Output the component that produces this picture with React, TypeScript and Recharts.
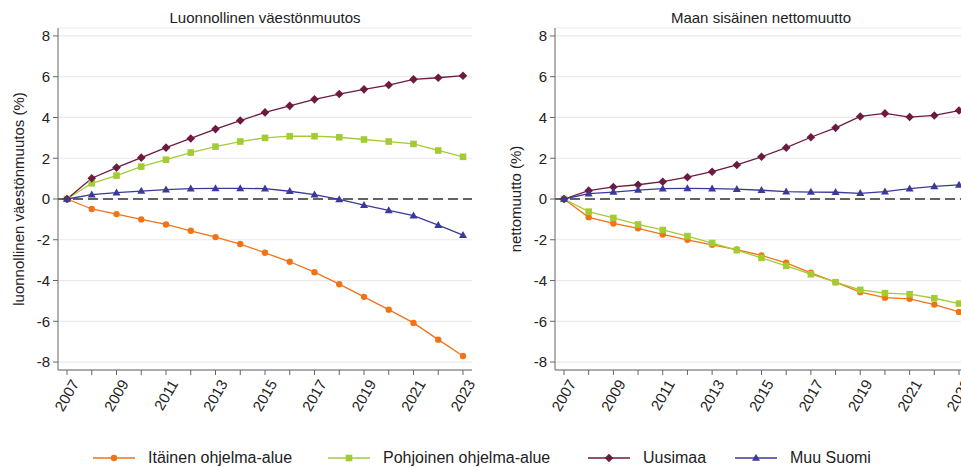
import React from 'react';
import { LineChart, Line, XAxis, YAxis, CartesianGrid, ReferenceLine } from 'recharts';

const years = [2007, 2008, 2009, 2010, 2011, 2012, 2013, 2014, 2015, 2016, 2017, 2018, 2019, 2020, 2021, 2022, 2023];
const yTicks = [-8, -6, -4, -2, 0, 2, 4, 6, 8];

// Luonnollinen väestönmuutos (%)
const natItainen = [0, -0.49, -0.74, -1.0, -1.25, -1.56, -1.87, -2.21, -2.64, -3.08, -3.59, -4.18, -4.8, -5.43, -6.08, -6.9, -7.7];
const natPohjoinen = [0, 0.77, 1.15, 1.59, 1.93, 2.28, 2.57, 2.82, 3.0, 3.08, 3.08, 3.03, 2.92, 2.82, 2.7, 2.38, 2.07];
const natUusimaa = [0, 1.02, 1.54, 2.03, 2.52, 2.97, 3.43, 3.85, 4.25, 4.57, 4.89, 5.15, 5.38, 5.59, 5.87, 5.95, 6.05];
const natMuu = [0, 0.21, 0.31, 0.39, 0.46, 0.51, 0.52, 0.52, 0.51, 0.38, 0.21, -0.02, -0.3, -0.56, -0.82, -1.28, -1.77];

// Maan sisäinen nettomuutto (%)
const netItainen = [0, -0.9, -1.2, -1.44, -1.74, -2.0, -2.25, -2.48, -2.77, -3.13, -3.62, -4.08, -4.57, -4.84, -4.9, -5.18, -5.54];
const netPohjoinen = [0, -0.62, -0.93, -1.25, -1.52, -1.82, -2.16, -2.51, -2.89, -3.28, -3.69, -4.08, -4.46, -4.62, -4.67, -4.87, -5.13];
const netUusimaa = [0, 0.41, 0.59, 0.7, 0.85, 1.07, 1.34, 1.67, 2.07, 2.52, 3.03, 3.49, 4.05, 4.2, 4.02, 4.1, 4.34];
const netMuu = [0, 0.26, 0.34, 0.44, 0.51, 0.52, 0.51, 0.48, 0.43, 0.36, 0.34, 0.33, 0.28, 0.36, 0.51, 0.62, 0.69];

const seriesNames = ['Itäinen ohjelma-alue', 'Pohjoinen ohjelma-alue', 'Uusimaa', 'Muu Suomi'];

const COLORS = ['#f47216', '#a3cc34', '#6d1a40', '#3b3a9a'];
const SHAPES = ['circle', 'square', 'diamond', 'triangle'];
const FONT = '"Liberation Sans", Arial, sans-serif';

const buildRows = (a: number[], b: number[], c: number[], d: number[]) =>
  years.map((year, i) => ({ year, s0: a[i], s1: b[i], s2: c[i], s3: d[i] }));

const natData = buildRows(natItainen, natPohjoinen, natUusimaa, natMuu);
const netData = buildRows(netItainen, netPohjoinen, netUusimaa, netMuu);

const Marker = ({ shape, cx, cy, color }: any) => {
  if (cx == null || cy == null) return null;
  if (shape === 'circle') return <circle cx={cx} cy={cy} r={3.2} fill={color} />;
  if (shape === 'square') return <rect x={cx - 3.3} y={cy - 3.3} width={6.6} height={6.6} fill={color} />;
  if (shape === 'diamond')
    return <polygon points={`${cx},${cy - 4.3} ${cx + 4.3},${cy} ${cx},${cy + 4.3} ${cx - 4.3},${cy}`} fill={color} />;
  return <polygon points={`${cx},${cy - 4.2} ${cx + 4},${cy + 2.8} ${cx - 4},${cy + 2.8}`} fill={color} />;
};

const XTick = ({ x, y, payload }: any) => {
  const v = payload.value;
  if (v % 2 === 0) return <g />;
  return (
    <text
      x={x + 3}
      y={y + 1}
      transform={`rotate(-60 ${x + 3} ${y + 1})`}
      textAnchor="end"
      dominantBaseline="hanging"
      fontSize={15}
      fill="#222"
      fontFamily={FONT}
    >
      {v}
    </text>
  );
};

const Panel = ({ data, yWidth, width, marginRight }: any) => (
  <LineChart
    width={width}
    height={430}
    data={data}
    margin={{ top: 28, right: marginRight, left: 0, bottom: 0 }}
    style={{ fontFamily: FONT }}
  >
    <CartesianGrid vertical={false} stroke="#e9e9e9" strokeWidth={1.2} />
    <XAxis
      dataKey="year"
      type="number"
      domain={[2006.636, 2023.364]}
      ticks={years}
      interval={0}
      height={60}
      tick={<XTick />}
      tickSize={5}
      stroke="#666"
      allowDataOverflow
    />
    <YAxis
      type="number"
      domain={[-8.39, 8.39]}
      ticks={yTicks}
      width={yWidth}
      tickSize={5}
      tickMargin={3}
      stroke="#666"
      tick={{ fontSize: 15, fill: '#222', fontFamily: FONT }}
      allowDataOverflow
    />
    <ReferenceLine y={0} stroke="#333" strokeWidth={1.6} strokeDasharray="10 5" />
    {seriesNames.map((name, i) => (
      <Line
        key={name}
        name={name}
        dataKey={`s${i}`}
        type="linear"
        stroke={COLORS[i]}
        strokeWidth={1.3}
        isAnimationActive={false}
        dot={(p: any) => <Marker key={`d${i}-${p.index}`} shape={SHAPES[i]} cx={p.cx} cy={p.cy} color={COLORS[i]} />}
        activeDot={false}
      />
    ))}
  </LineChart>
);

const LegendIcon = ({ i }: { i: number }) => (
  <svg width={42} height={12} style={{ display: 'block' }}>
    <line x1={0} y1={6} x2={42} y2={6} stroke={COLORS[i]} strokeWidth={1.3} />
    <Marker shape={SHAPES[i]} cx={21} cy={6} color={COLORS[i]} />
  </svg>
);

const legendLeft = [93, 328, 588, 735];

const App = () => (
  <div
    style={{
      position: 'absolute',
      left: 0,
      top: 0,
      width: 961,
      height: 468,
      overflow: 'hidden',
      background: '#fff',
      fontFamily: FONT,
      color: '#222',
    }}
  >
    <div style={{ position: 'absolute', left: 265, top: 17, transform: 'translate(-50%, -50%)', fontSize: 15, whiteSpace: 'nowrap' }}>
      Luonnollinen väestönmuutos
    </div>
    <div style={{ position: 'absolute', left: 761, top: 17, transform: 'translate(-50%, -50%)', fontSize: 15, whiteSpace: 'nowrap' }}>
      Maan sisäinen nettomuutto
    </div>
    <div style={{ position: 'absolute', left: 18, top: 199, transform: 'translate(-50%, -50%) rotate(-90deg)', fontSize: 15, whiteSpace: 'nowrap' }}>
      luonnollinen väestönmuutos (%)
    </div>
    <div style={{ position: 'absolute', left: 515, top: 199, transform: 'translate(-50%, -50%) rotate(-90deg)', fontSize: 15, whiteSpace: 'nowrap' }}>
      nettomuutto (%)
    </div>
    <div style={{ position: 'absolute', left: 0, top: 0 }}>
      <Panel data={natData} yWidth={58} width={480} marginRight={8} />
    </div>
    <div style={{ position: 'absolute', left: 480, top: 0 }}>
      <Panel data={netData} yWidth={75} width={488} marginRight={0} />
    </div>
    {seriesNames.map((name, i) => (
      <div
        key={name}
        style={{ position: 'absolute', left: legendLeft[i], top: 458, transform: 'translateY(-50%)', display: 'flex', alignItems: 'center', whiteSpace: 'nowrap' }}
      >
        <LegendIcon i={i} />
        <span style={{ marginLeft: 13, fontSize: 16 }}>{name}</span>
      </div>
    ))}
  </div>
);

export default App;
